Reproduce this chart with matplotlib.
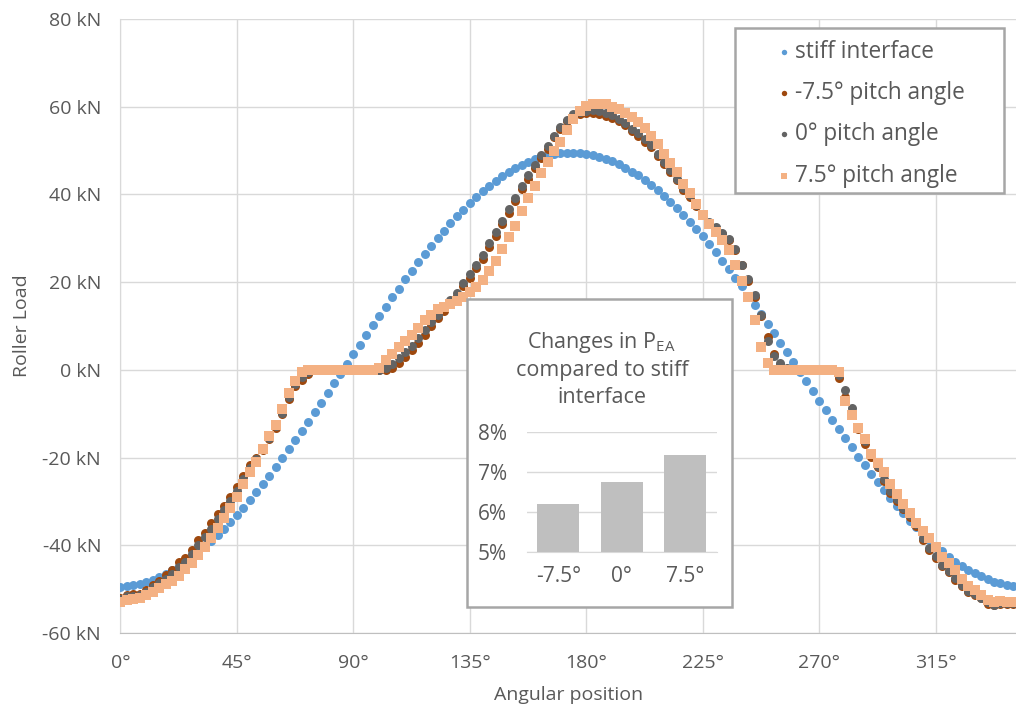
import matplotlib.pyplot as plt
import numpy as np
from matplotlib.patches import Rectangle

plt.rcParams['font.family'] = ['Open Sans', 'DejaVu Sans']

# angular positions, one reading every 2.5 deg
angle = np.arange(0, 347.5, 2.5)

# roller load in kN (rows of 25 deg)
stiff = [
    -49.5, -49.3, -49.1, -48.8, -48.4, -47.9, -47.2, -46.5, -45.7, -44.8,
    -43.9, -42.8, -41.6, -40.4, -39.1, -37.7, -36.2, -34.7, -33.1, -31.4,
    -29.7, -27.9, -26.0, -24.1, -22.2, -20.2, -18.1, -16.1, -13.9, -11.8,
    -9.7, -7.5, -5.3, -3.1, -0.9, 1.3, 3.5, 5.7, 7.9, 10.1,
    12.2, 14.4, 16.5, 18.5, 20.6, 22.6, 24.5, 26.4, 28.2, 30.0,
    31.7, 33.4, 35.0, 36.5, 38.0, 39.4, 40.7, 41.9, 43.0, 44.1,
    45.0, 45.9, 46.7, 47.4, 48.0, 48.5, 48.9, 49.2, 49.4, 49.5,
    49.5, 49.4, 49.2, 48.9, 48.6, 48.1, 47.5, 46.8, 46.1, 45.2,
    44.3, 43.2, 42.1, 40.9, 39.6, 38.3, 36.8, 35.3, 33.7, 32.1,
    30.4, 28.6, 26.8, 24.9, 22.9, 21.0, 19.0, 16.9, 14.8, 12.7,
    10.5, 8.4, 6.2, 4.0, 1.8, -0.4, -2.6, -4.8, -7.0, -9.2,
    -11.4, -13.5, -15.6, -17.7, -19.8, -21.8, -23.7, -25.6, -27.5, -29.3,
    -31.0, -32.7, -34.4, -35.9, -37.4, -38.8, -40.1, -41.4, -42.6, -43.7,
    -44.7, -45.6, -46.4, -47.1, -47.7, -48.3, -48.7, -49.1, -49.3,
]
pitch_m75 = [
    -52.0, -51.3, -51.2, -51.0, -50.1, -49.0, -48.1, -46.8, -45.7, -43.9,
    -42.8, -41.0, -38.9, -37.1, -35.0, -32.9, -31.0, -29.1, -26.8, -24.3,
    -21.6, -20.0, -18.3, -15.8, -13.2, -10.1, -6.7, -3.8, -2.4, -1.0,
    0, 0, 0, 0, 0, 0, 0, 0, 0, 0,
    0, 0, 0.3, 1.5, 3.0, 4.5, 6.2, 8.0, 9.9, 11.7,
    13.4, 15.1, 16.8, 19.2, 21.0, 23.1, 25.2, 28.0, 30.5, 33.2,
    35.8, 38.4, 41.2, 43.6, 46.1, 48.3, 50.3, 53.0, 54.9, 56.7,
    57.9, 58.3, 58.5, 58.6, 58.3, 57.9, 57.5, 56.6, 55.7, 54.5,
    53.3, 52.0, 50.7, 48.8, 47.0, 45.2, 43.2, 41.0, 39.5, 37.3,
    35.2, 33.5, 32.4, 31.0, 29.5, 27.2, 24.0, 20.3, 16.6, 12.2,
    7.5, 3.5, 1.0, 0, 0, 0, 0, 0, 0, 0,
    0, -1.8, -6.3, -10.3, -13.5, -17.0, -19.8, -22.2, -25.3, -28.0,
    -29.8, -31.8, -33.5, -35.5, -38.8, -41.1, -42.9, -44.8, -46.2, -47.8,
    -49.3, -50.7, -51.3, -52.1, -53.3, -53.7, -53.4, -53.4, -53.4,
]
pitch_0 = [
    -52.3, -51.6, -51.6, -51.3, -50.6, -49.6, -48.7, -47.6, -46.6, -45.0,
    -43.8, -42.0, -40.0, -38.2, -36.2, -34.0, -32.0, -30.0, -27.6, -25.0,
    -22.3, -20.3, -18.0, -15.5, -12.9, -9.8, -6.2, -3.2, -1.6, -0.4,
    0, 0, 0, 0, 0, 0, 0, 0, 0, 0,
    0, 0.5, 1.4, 2.8, 4.1, 5.5, 7.2, 9.0, 10.9, 12.6,
    14.3, 15.9, 17.6, 19.8, 21.8, 23.9, 26.1, 28.8, 31.3, 34.0,
    36.7, 39.2, 42.0, 44.3, 46.7, 48.9, 50.9, 53.4, 55.3, 57.0,
    58.2, 58.7, 59.0, 59.2, 59.1, 58.6, 58.1, 57.2, 56.2, 55.0,
    53.9, 52.5, 51.2, 49.3, 47.4, 45.6, 43.6, 41.4, 39.8, 37.6,
    35.5, 33.8, 32.6, 31.2, 29.8, 27.5, 24.0, 20.8, 17.0, 12.5,
    6.5, 3.2, 1.6, 0.5, 0, 0, 0, 0, 0, 0,
    0, -1.2, -4.5, -8.8, -13.0, -16.2, -19.3, -21.9, -24.8, -27.6,
    -29.5, -31.4, -33.2, -35.2, -38.3, -40.6, -42.5, -44.4, -45.9, -47.5,
    -49.0, -50.4, -51.1, -52.0, -53.0, -53.5, -53.2, -53.2, -53.2,
]
pitch_p75 = [
    -53.0, -52.5, -52.3, -52.0, -51.4, -50.6, -49.8, -48.9, -48.1, -47.0,
    -45.4, -44.1, -42.2, -40.3, -38.4, -36.0, -33.8, -31.4, -29.0, -26.0,
    -23.3, -21.0, -18.1, -15.1, -12.5, -9.0, -5.4, -2.6, -0.5, 0,
    0, 0, 0, 0, 0, 0, 0, 0, 0, 0,
    0.5, 2.3, 3.5, 5.2, 6.6, 8.0, 9.6, 11.4, 12.6, 13.9,
    14.4, 14.9, 15.6, 16.7, 17.8, 18.8, 20.5, 22.6, 24.8, 27.6,
    30.2, 32.8, 36.3, 39.2, 41.8, 44.8, 47.3, 49.8, 52.0, 54.6,
    57.2, 59.0, 60.1, 60.5, 60.6, 60.6, 60.0, 59.4, 58.6, 57.6,
    56.5, 55.1, 53.4, 51.4, 49.2, 47.1, 45.1, 42.4, 40.3, 37.7,
    35.2, 33.3, 31.4, 29.5, 27.3, 23.9, 20.2, 16.6, 11.4, 5.1,
    1.5, 0, 0, 0, 0, 0, 0, 0, 0, 0,
    0, -0.5, -7.0, -10.4, -13.2, -15.8, -19.3, -21.3, -23.4, -26.1,
    -28.2, -30.5, -32.7, -35.0, -36.7, -38.3, -40.3, -42.6, -44.1, -45.7,
    -47.6, -49.2, -50.3, -51.4, -52.5, -53.0, -52.8, -53.0, -53.0,
]

# inset: change in P_EA per pitch angle
inset_labels = ['-7.5°', '0°', '7.5°']
inset_values = [6.19, 6.74, 7.42]

txt = '#595959'
grid = '#D9D9D9'
border = '#A6A6A6'

fig = plt.figure(figsize=(10.16, 7.08), dpi=100)
ax = fig.add_axes([0.1186, 0.1059, 0.8814, 0.8675])

ax.scatter(angle, stiff, s=42, marker='o', color='#5B9BD5', lw=0, label='stiff interface', zorder=3)
ax.scatter(angle, pitch_m75, s=42, marker='o', color='#9E480E', lw=0, label='-7.5° pitch angle', zorder=3)
ax.scatter(angle, pitch_0, s=42, marker='o', color='#636363', lw=0, label='0° pitch angle', zorder=3)
ax.scatter(angle, pitch_p75, s=46, marker='s', color='#F4B183', lw=0, label='7.5° pitch angle', zorder=3)

ax.set_xlim(0, 346)
ax.set_ylim(-60, 80)
ax.set_xticks(np.arange(0, 316, 45))
ax.set_xticklabels([f'{a}°' for a in range(0, 316, 45)])
ax.set_yticks(np.arange(-60, 81, 20))
ax.set_yticklabels([f'{v} kN' for v in range(-60, 81, 20)])
ax.tick_params(length=0, labelsize=14, labelcolor=txt)
ax.tick_params(axis='x', pad=15)
ax.tick_params(axis='y', pad=14)
ax.grid(True, color=grid, lw=1)
ax.set_axisbelow(True)
for s in ['top', 'right']:
    ax.spines[s].set_visible(False)
ax.spines['left'].set_color(grid)
ax.spines['bottom'].set_color('#BFBFBF')
ax.set_xlabel('Angular position', fontsize=14, color=txt, labelpad=10)
ax.set_ylabel('Roller Load', fontsize=14, color=txt, labelpad=8)

# legend box drawn by hand, legend itself frameless on top
lbox = Rectangle((0.7234, 0.7274), 0.2648, 0.2331, transform=fig.transFigure,
                 facecolor='white', edgecolor=border, lw=1.8, zorder=4)
fig.patches.append(lbox)
handles, labels = ax.get_legend_handles_labels()
leg = fig.legend(handles, labels, loc='upper left', bbox_to_anchor=(0.7628, 0.9439),
                 borderaxespad=0, borderpad=0, frameon=False, fontsize=16.3,
                 labelcolor=txt, markerscale=0.6, handlelength=0.8, handletextpad=0.1,
                 labelspacing=0.765)
leg.set_zorder(6)

# inset box with the bar chart
box = Rectangle((0.4600, 0.1431), 0.2602, 0.4342, transform=fig.transFigure,
                facecolor='white', edgecolor=border, lw=1.8, zorder=5)
fig.patches.append(box)
fig.text(0.5923, 0.516, 'Changes in P$_{\\mathregular{EA}}$', ha='center', va='center',
         fontsize=15.5, color=txt, zorder=6)
fig.text(0.5923, 0.476, 'compared to stiff', ha='center', va='center', fontsize=15.5, color=txt, zorder=6)
fig.text(0.5923, 0.438, 'interface', ha='center', va='center', fontsize=15.5, color=txt, zorder=6)

iax = fig.add_axes([0.5184, 0.2199, 0.187, 0.1703], zorder=7)
iax.patch.set_alpha(0)
iax.bar(range(3), inset_values, width=0.66, color='#BFBFBF', zorder=3)
iax.set_ylim(5, 8)
iax.set_xlim(-0.5, 2.5)
iax.set_yticks([5, 6, 7, 8])
iax.set_yticklabels(['5%', '6%', '7%', '8%'])
iax.set_xticks(range(3))
iax.set_xticklabels(inset_labels)
iax.tick_params(length=0, labelsize=15, labelcolor=txt)
iax.tick_params(axis='x', pad=10)
iax.tick_params(axis='y', pad=14)
iax.grid(True, axis='y', color=grid, lw=1)
for s in ['top', 'right', 'left']:
    iax.spines[s].set_visible(False)
iax.spines['bottom'].set_color(grid)

fig.savefig('out.png', dpi=100)
